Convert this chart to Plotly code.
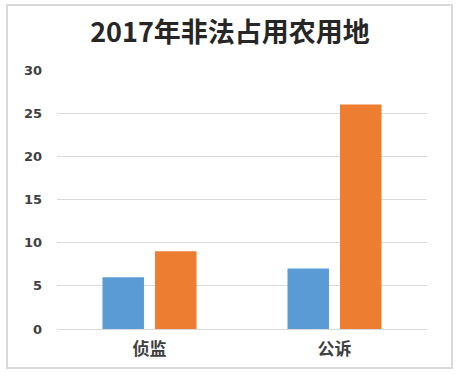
import plotly.graph_objects as go

categories = ["侦监", "公诉"]
series_blue = [6, 7]
series_orange = [9, 26]
y_ticks = [0, 5, 10, 15, 20, 25, 30]
title_text = "2017年非法占用农用地"

L, R, T, B = 57, 33, 70, 47
W, H = 460, 376
pw, ph = W - L - R, H - T - B

fig = go.Figure()
fig.add_trace(go.Bar(x=categories, y=series_blue, marker=dict(color="#5b9bd5", line=dict(width=0)), name="a"))
fig.add_trace(go.Bar(x=categories, y=series_orange, marker=dict(color="#ed7d31", line=dict(width=0)), name="b"))

def px(x):
    return (x - L) / pw

def py(y):
    return (H - B - y) / ph

fig.add_shape(type="rect", xref="paper", yref="paper",
              x0=px(7), x1=px(452), y0=py(368), y1=py(5),
              line=dict(color="#d9d9d9", width=2), fillcolor="rgba(0,0,0,0)", layer="below")

fig.update_layout(
    width=W, height=H,
    margin=dict(l=L, r=R, t=T, b=B),
    paper_bgcolor="white", plot_bgcolor="white",
    showlegend=False,
    barmode="group", bargap=0.432, bargroupgap=0.21,
    title=dict(text="<b>" + title_text + "</b>", x=0.5, xanchor="center", y=1 - 33 / H, yanchor="middle",
               font=dict(family="Noto Sans CJK SC", size=27, color="#262626")),
    xaxis=dict(showgrid=False, showline=False, ticks="", zeroline=False, ticklabelstandoff=8,
               tickfont=dict(family="Noto Sans CJK SC", size=17, color="#404040", weight="bold")),
    yaxis=dict(range=[0, 30], tickvals=y_ticks, showgrid=True, gridcolor="#d9d9d9", gridwidth=1,
               zeroline=True, zerolinecolor="#d9d9d9", zerolinewidth=1, showline=False,
               ticks="", ticklabelstandoff=14,
               tickfont=dict(family="DejaVu Sans", size=13, color="#404040", weight="bold")),
)
fig.write_html("out.html")
